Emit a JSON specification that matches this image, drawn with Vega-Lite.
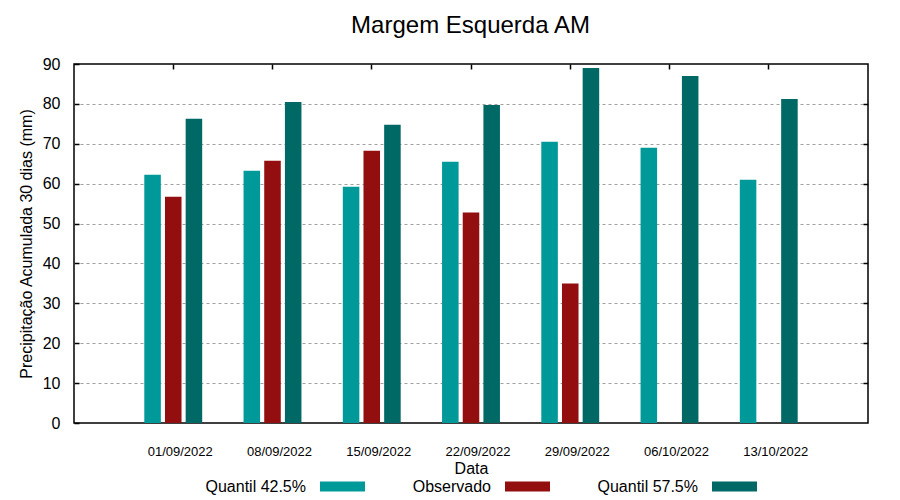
{
  "$schema": "https://vega.github.io/schema/vega-lite/v6.json",
  "width": 794,
  "height": 359,
  "autosize": {"type": "none"},
  "padding": {"left": 74, "top": 64, "right": 32, "bottom": 77},
  "background": "white",
  "config": {
    "font": "Liberation Sans",
    "view": {"stroke": "black", "strokeWidth": 1.5}
  },
  "data": {
    "values": [
      {"date": "01/09/2022", "serie": "Quantil 42.5%", "value": 62.25},
      {"date": "01/09/2022", "serie": "Observado", "value": 56.75},
      {"date": "01/09/2022", "serie": "Quantil 57.5%", "value": 76.25},
      {"date": "08/09/2022", "serie": "Quantil 42.5%", "value": 63.25},
      {"date": "08/09/2022", "serie": "Observado", "value": 65.75},
      {"date": "08/09/2022", "serie": "Quantil 57.5%", "value": 80.5},
      {"date": "15/09/2022", "serie": "Quantil 42.5%", "value": 59.25},
      {"date": "15/09/2022", "serie": "Observado", "value": 68.25},
      {"date": "15/09/2022", "serie": "Quantil 57.5%", "value": 74.75},
      {"date": "22/09/2022", "serie": "Quantil 42.5%", "value": 65.5},
      {"date": "22/09/2022", "serie": "Observado", "value": 52.75},
      {"date": "22/09/2022", "serie": "Quantil 57.5%", "value": 79.75},
      {"date": "29/09/2022", "serie": "Quantil 42.5%", "value": 70.5},
      {"date": "29/09/2022", "serie": "Observado", "value": 35.0},
      {"date": "29/09/2022", "serie": "Quantil 57.5%", "value": 89.0},
      {"date": "06/10/2022", "serie": "Quantil 42.5%", "value": 69.0},
      {"date": "06/10/2022", "serie": "Quantil 57.5%", "value": 87.0},
      {"date": "13/10/2022", "serie": "Quantil 42.5%", "value": 61.0},
      {"date": "13/10/2022", "serie": "Quantil 57.5%", "value": 81.25}
    ]
  },
  "layer": [
    {
      "mark": {"type": "bar"},
      "encoding": {
        "x": {
          "field": "date",
          "type": "nominal",
          "sort": null,
          "scale": {"paddingInner": 0, "paddingOuter": 0.5},
          "axis": {
            "orient": "bottom",
            "title": "Data",
            "titleFont": "Liberation Sans",
            "titleFontSize": 16,
            "titleFontWeight": "normal",
            "titleColor": "black",
            "titlePadding": 2,
            "labelAngle": 0,
            "labelFontSize": 13,
            "labelColor": "black",
            "labelPadding": 22,
            "labelOffset": 7,
            "ticks": false,
            "domain": false,
            "grid": false
          }
        },
        "xOffset": {
          "field": "serie",
          "type": "nominal",
          "sort": ["Quantil 42.5%", "Observado", "Quantil 57.5%"],
          "scale": {"paddingInner": 0.2, "paddingOuter": 1.075}
        },
        "y": {
          "field": "value",
          "type": "quantitative",
          "scale": {"domain": [0, 90], "nice": false, "zero": true},
          "axis": {
            "orient": "left",
            "title": "Precipitação Acumulada 30 dias (mm)",
            "titleFont": "Liberation Sans",
            "titleFontSize": 16,
            "titleFontWeight": "normal",
            "titleColor": "black",
            "titlePadding": 8,
            "values": [0, 10, 20, 30, 40, 50, 60, 70, 80, 90],
            "labelFontSize": 16,
            "labelColor": "black",
            "labelPadding": 19,
            "tickSize": -5,
            "tickColor": "black",
            "tickWidth": 1.5,
            "domain": false,
            "grid": true,
            "gridColor": {"condition": {"test": "datum.value == 0 || datum.value == 90", "value": "transparent"}, "value": "#a0a0a0"},
            "gridDash": [3, 3],
            "gridWidth": 1
          }
        },
        "color": {
          "field": "serie",
          "type": "nominal",
          "sort": ["Quantil 42.5%", "Observado", "Quantil 57.5%"],
          "scale": {"domain": ["Quantil 42.5%", "Observado", "Quantil 57.5%"], "range": ["#009999", "#930e0e", "#006966"]},
          "legend": {
            "orient": "none",
            "legendX": 246,
            "legendY": 400,
            "direction": "horizontal",
            "title": null,
            "symbolType": "M-1,-0.22H1V0.22H-1Z",
            "symbolSize": 2025,
            "symbolStrokeWidth": 0,
            "labelFontSize": 16,
            "labelColor": "black",
            "labelAlign": "right",
            "labelOffset": -59,
            "columnPadding": 47,
            "gridAlign": "none"
          }
        }
      }
    },
    {
      "mark": {"type": "bar", "opacity": 0},
      "encoding": {
        "x": {
          "field": "date",
          "type": "nominal",
          "sort": null,
          "axis": {
            "orient": "top",
            "title": "Margem Esquerda AM",
            "titleFont": "Liberation Sans",
            "titleFontSize": 24,
            "titleFontWeight": "normal",
            "titleColor": "black",
            "titlePadding": 26,
            "titleX": 396,
            "labels": false,
            "domain": false,
            "grid": false,
            "tickSize": -5,
            "tickColor": "black",
            "tickWidth": 1.5
          }
        },
        "y": {
          "field": "value",
          "type": "quantitative",
          "axis": {"orient": "right", "title": null, "labels": false, "domain": false, "grid": false, "values": [10, 20, 30, 40, 50, 60, 70, 80], "tickSize": -5, "tickColor": "black", "tickWidth": 1.5}
        }
      }
    }
  ],
  "resolve": {"axis": {"x": "independent", "y": "independent"}}
}
